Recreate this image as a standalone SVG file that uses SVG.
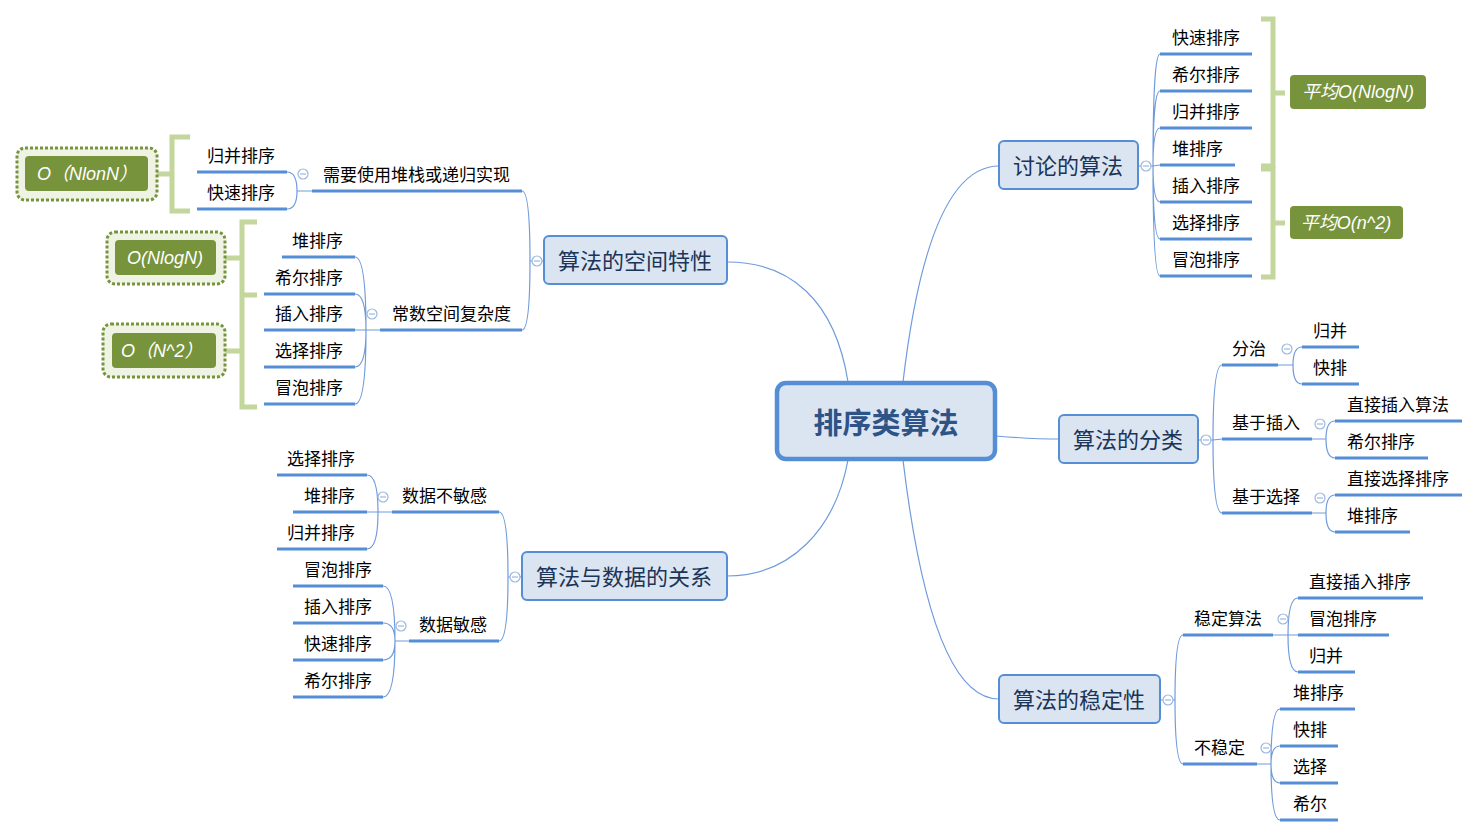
<svg xmlns="http://www.w3.org/2000/svg" width="1479" height="837" viewBox="0 0 1479 837">
<style>
.t{font-family:"Liberation Sans","Noto Sans CJK SC",sans-serif;font-size:17px;fill:#000}
.e{text-anchor:end}
.mt{font-family:"Liberation Sans","Noto Sans CJK SC",sans-serif;font-size:22px;fill:#1c3458;text-anchor:middle}
.ct{font-family:"Noto Sans CJK SC",sans-serif;font-size:29px;font-weight:bold;fill:#2e5386;text-anchor:middle}
.gl{font-family:"Liberation Sans","Noto Sans CJK SC",sans-serif;font-size:18px;font-style:italic;fill:#fff}
.ul{stroke:#558ed5;stroke-width:3;fill:none}
.cn{stroke:#6f9bdc;stroke-width:1.2;fill:none}
.box{fill:#dbe5f1;stroke:#558ed5;stroke-width:2}
.br{stroke:#c3d69b;stroke-width:5;fill:none}
.gb{fill:#77933c}
.dot{fill:#eef3e3;stroke:#77933c;stroke-width:3;stroke-dasharray:3 2}
.col{fill:#fff;stroke:#9bb7e0;stroke-width:1.2}
</style>
<defs>
<g id="minus"><circle class="col" cx="0" cy="0" r="5"/><path d="M-3 0H3" stroke="#9bb7e0" stroke-width="1.2"/></g>
</defs>

<g id="connectors">
<path class="cn" d="M848 382 C835 300 790 262 727 262"/>
<path class="cn" d="M903 382 C915 280 940 166 999 166"/>
<path class="cn" d="M996 436 C1020 438 1040 439 1059 439"/>
<path class="cn" d="M848 460 C835 530 790 576 727 576"/>
<path class="cn" d="M903 460 C915 560 940 699 999 699"/>
<!-- 讨论的算法 -->
<path class="cn" d="M1138 166H1153 M1153 166Q1153 54 1160 54 M1153 166Q1153 91 1160 91 M1153 166Q1153 128 1160 128 M1153 166L1160 165 M1153 166Q1153 202 1160 202 M1153 166Q1153 239 1160 239 M1153 166Q1153 276 1160 276"/>
<!-- 算法的分类 -->
<path class="cn" d="M1198 440H1213 M1213 440Q1213 365 1222 365 M1213 440L1222 439 M1213 440Q1213 513 1222 513"/>
<path class="cn" d="M1278 365H1293 M1293 365Q1293 347 1302 347 M1293 365Q1293 384 1302 384"/>
<path class="cn" d="M1312 439H1326 M1326 439Q1326 421 1335 421 M1326 439Q1326 458 1335 458"/>
<path class="cn" d="M1312 513H1326 M1326 513Q1326 495 1335 495 M1326 513Q1326 532 1335 532"/>
<!-- 算法的稳定性 -->
<path class="cn" d="M1160 700H1175 M1175 700Q1175 635 1183 635 M1175 700Q1175 764 1183 764"/>
<path class="cn" d="M1273 635H1288 M1288 635Q1288 598 1298 598 M1288 635L1298 635 M1288 635Q1288 672 1298 672"/>
<path class="cn" d="M1257 764H1271 M1271 764Q1271 709 1280 709 M1271 764Q1271 746 1280 746 M1271 764Q1271 783 1280 783 M1271 764Q1271 820 1280 820"/>
<!-- 算法的空间特性 -->
<path class="cn" d="M544 261H530 M530 261Q530 191 522 191 M530 261Q530 330 522 330"/>
<path class="cn" d="M312 191H297 M297 191Q297 172 287 172 M297 191Q297 209 287 209"/>
<path class="cn" d="M380 330H366 M366 330Q366 257 355 257 M366 330Q366 294 355 294 M366 330L355 330 M366 330Q366 367 355 367 M366 330Q366 404 355 404"/>
<!-- 算法与数据的关系 -->
<path class="cn" d="M522 577H508 M508 577Q508 512 499 512 M508 577Q508 641 499 641"/>
<path class="cn" d="M392 512H378 M378 512Q378 475 367 475 M378 512L367 512 M378 512Q378 549 367 549"/>
<path class="cn" d="M409 641H395 M395 641Q395 586 383 586 M395 641Q395 623 383 623 M395 641Q395 660 383 660 M395 641Q395 697 383 697"/>
</g>

<g id="root">
<rect x="777" y="383" width="218" height="76" rx="9" fill="#dbe5f1" stroke="#558ed5" stroke-width="4.5"/>
<text class="ct" x="886" y="434">排序类算法</text>
</g>

<g id="t-discuss">
<rect class="box" x="999" y="141" width="139" height="48" rx="5"/>
<text class="mt" x="1068" y="174">讨论的算法</text>
<use href="#minus" x="1146" y="166"/>
</g>
<g id="discuss-children">
<path class="ul" d="M1160 54H1252 M1160 91H1252 M1160 128H1252 M1160 165H1235 M1160 202H1252 M1160 239H1252 M1160 276H1252"/>
<text class="t" x="1172" y="44">快速排序</text>
<text class="t" x="1172" y="81">希尔排序</text>
<text class="t" x="1172" y="118">归并排序</text>
<text class="t" x="1172" y="155">堆排序</text>
<text class="t" x="1172" y="192">插入排序</text>
<text class="t" x="1172" y="229">选择排序</text>
<text class="t" x="1172" y="266">冒泡排序</text>
</g>
<g id="summary-right">
<path class="br" d="M1261 19H1273V166H1261 M1273 93H1285"/>
<path class="br" d="M1261 169H1273V277H1261 M1273 223H1285"/>
<rect class="gb" x="1290" y="75" width="136" height="34" rx="4"/>
<text class="gl" x="1358" y="98" text-anchor="middle">平均O(NlogN)</text>
<rect class="gb" x="1290" y="206" width="113" height="33" rx="4"/>
<text class="gl" x="1346" y="229" text-anchor="middle">平均O(n^2)</text>
</g>

<g id="t-classify">
<rect class="box" x="1059" y="415" width="139" height="48" rx="5"/>
<text class="mt" x="1128" y="448">算法的分类</text>
<use href="#minus" x="1206" y="440"/>
</g>
<g id="classify-children">
<path class="ul" d="M1222 365H1278 M1222 439H1312 M1222 513H1312"/>
<text class="t" x="1232" y="355">分治</text>
<text class="t" x="1232" y="429">基于插入</text>
<text class="t" x="1232" y="503">基于选择</text>
<use href="#minus" x="1287" y="349"/>
<use href="#minus" x="1320" y="424"/>
<use href="#minus" x="1320" y="498"/>
<path class="ul" d="M1302 347H1359 M1302 384H1359 M1335 421H1462 M1335 458H1428 M1335 495H1462 M1335 532H1410"/>
<text class="t" x="1313" y="337">归并</text>
<text class="t" x="1313" y="374">快排</text>
<text class="t" x="1347" y="411">直接插入算法</text>
<text class="t" x="1347" y="448">希尔排序</text>
<text class="t" x="1347" y="485">直接选择排序</text>
<text class="t" x="1347" y="522">堆排序</text>
</g>

<g id="t-stability">
<rect class="box" x="999" y="675" width="161" height="48" rx="5"/>
<text class="mt" x="1079" y="708">算法的稳定性</text>
<use href="#minus" x="1168" y="700"/>
</g>
<g id="stability-children">
<path class="ul" d="M1183 635H1273 M1183 764H1257"/>
<text class="t" x="1194" y="625">稳定算法</text>
<text class="t" x="1194" y="754">不稳定</text>
<use href="#minus" x="1283" y="619"/>
<use href="#minus" x="1266" y="748"/>
<path class="ul" d="M1298 598H1423 M1298 635H1389 M1298 672H1355 M1280 709H1355 M1280 746H1338 M1280 783H1338 M1280 820H1338"/>
<text class="t" x="1309" y="588">直接插入排序</text>
<text class="t" x="1309" y="625">冒泡排序</text>
<text class="t" x="1309" y="662">归并</text>
<text class="t" x="1293" y="699">堆排序</text>
<text class="t" x="1293" y="736">快排</text>
<text class="t" x="1293" y="773">选择</text>
<text class="t" x="1293" y="810">希尔</text>
</g>

<g id="t-space">
<rect class="box" x="544" y="236" width="183" height="48" rx="5"/>
<text class="mt" x="635" y="269">算法的空间特性</text>
<use href="#minus" x="537" y="261"/>
</g>
<g id="space-children">
<path class="ul" d="M312 191H522 M380 330H522"/>
<text class="t" x="323" y="181">需要使用堆栈或递归实现</text>
<text class="t" x="392" y="320">常数空间复杂度</text>
<use href="#minus" x="303" y="174"/>
<use href="#minus" x="372" y="314"/>
<path class="ul" d="M197 172H287 M197 209H287 M282 257H355 M264 294H355 M264 330H355 M264 367H355 M264 404H355"/>
<text class="t e" x="275" y="162">归并排序</text>
<text class="t e" x="275" y="199">快速排序</text>
<text class="t e" x="343" y="247">堆排序</text>
<text class="t e" x="343" y="284">希尔排序</text>
<text class="t e" x="343" y="320">插入排序</text>
<text class="t e" x="343" y="357">选择排序</text>
<text class="t e" x="343" y="394">冒泡排序</text>
</g>
<g id="summary-left">
<path class="br" d="M190 137H172V211H190 M172 174H155"/>
<path class="br" d="M257 222H242V407H257 M242 295H257 M242 258H223 M242 351H223"/>
<rect class="dot" x="17" y="148" width="140" height="52" rx="8"/>
<rect class="gb" x="25" y="156" width="123" height="35" rx="4"/>
<text class="gl" x="37" y="180">O（NlonN）</text>
<rect class="dot" x="107" y="232" width="118" height="52" rx="8"/>
<rect class="gb" x="115" y="240" width="101" height="35" rx="4"/>
<text class="gl" x="165" y="264" text-anchor="middle">O(NlogN)</text>
<rect class="dot" x="103" y="324" width="122" height="53" rx="8"/>
<rect class="gb" x="112" y="333" width="104" height="35" rx="4"/>
<text class="gl" x="121" y="357">O（N^2）</text>
</g>

<g id="t-data">
<rect class="box" x="522" y="552" width="205" height="48" rx="5"/>
<text class="mt" x="624" y="585">算法与数据的关系</text>
<use href="#minus" x="515" y="577"/>
</g>
<g id="data-children">
<path class="ul" d="M392 512H499 M409 641H499"/>
<text class="t" x="402" y="502">数据不敏感</text>
<text class="t" x="419" y="631">数据敏感</text>
<use href="#minus" x="383" y="497"/>
<use href="#minus" x="401" y="626"/>
<path class="ul" d="M277 475H367 M293 512H367 M277 549H367 M293 586H383 M293 623H383 M293 660H383 M293 697H383"/>
<text class="t e" x="355" y="465">选择排序</text>
<text class="t e" x="355" y="502">堆排序</text>
<text class="t e" x="355" y="539">归并排序</text>
<text class="t e" x="372" y="576">冒泡排序</text>
<text class="t e" x="372" y="613">插入排序</text>
<text class="t e" x="372" y="650">快速排序</text>
<text class="t e" x="372" y="687">希尔排序</text>
</g>
</svg>
